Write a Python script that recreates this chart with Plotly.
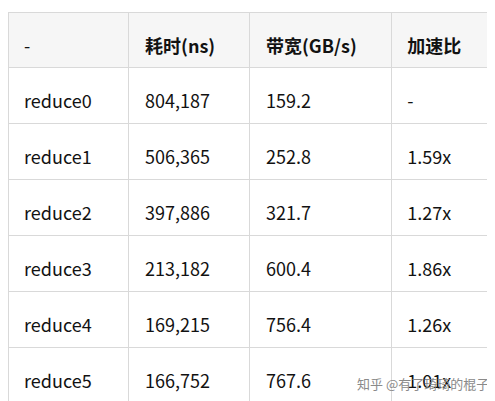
import plotly.graph_objects as go

headers = ["-", "<b>耗时(ns)</b>", "<b>带宽(GB/s)</b>", "<b>加速比</b>"]
kernels = ["reduce0", "reduce1", "reduce2", "reduce3", "reduce4", "reduce5"]
times = ["804,187", "506,365", "397,886", "213,182", "169,215", "166,752"]
bandwidth = ["159.2", "252.8", "321.7", "600.4", "756.4", "767.6"]
speedup = ["-", "1.59x", "1.27x", "1.86x", "1.26x", "1.01x"]

pad = "<span style='font-size:8px'> </span><br>  "


def padded(col):
    return [pad + v for v in col]


font = "Noto Sans CJK SC, Noto Sans, sans-serif"
fig = go.Figure(go.Table(
    columnwidth=[120, 120, 140, 103],
    header=dict(values=padded(headers), fill_color="#f6f6f6", line_color="#d9d9d9",
                align="left", height=55,
                font=dict(family=font, size=18, color="#121212")),
    cells=dict(values=[padded(kernels), padded(times), padded(bandwidth), padded(speedup)],
               fill_color="white", line_color="#d9d9d9", align="left", height=56,
               font=dict(family=font, size=18, color="#121212")),
    domain=dict(x=[0.0, 0.985], y=[0.0, 0.988]),
))
fig.add_annotation(text="知乎 @有了琦琦的棍子", x=0.975, y=0.035, xref="paper", yref="paper",
                   xanchor="right", yanchor="bottom", showarrow=False,
                   font=dict(family=font, size=13, color="#8a8a8a"))
fig.update_layout(width=495, height=401, margin=dict(l=0, r=0, t=0, b=0),
                  paper_bgcolor="white")
fig.write_html("out.html")
